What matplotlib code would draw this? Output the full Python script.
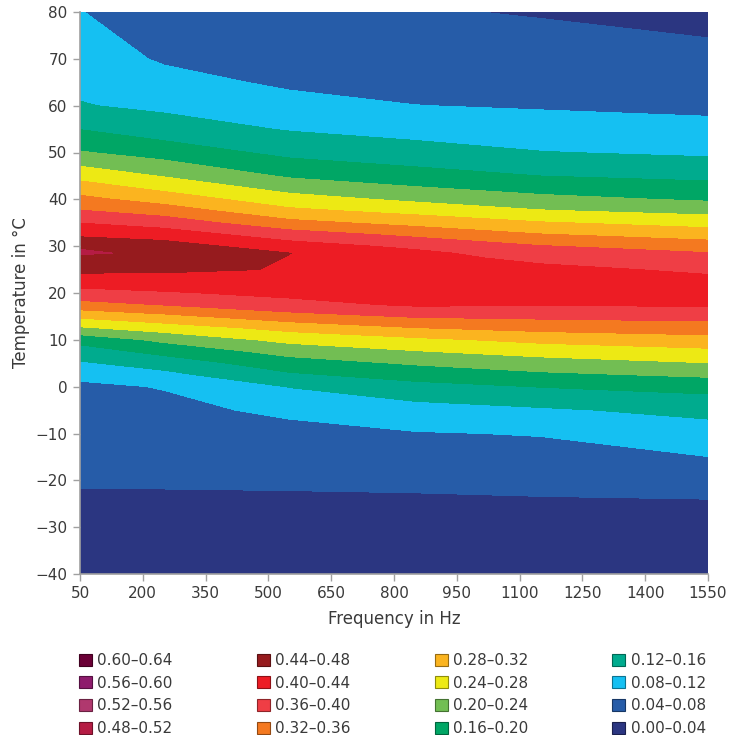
import numpy as np
import matplotlib.pyplot as plt
from matplotlib.colors import to_rgb
from matplotlib.patches import Patch

plt.rcParams['font.family'] = ['DejaVu Sans']

# measurement grid
freqs = [50, 250, 550, 850, 1150, 1550]
temps = [-40, -30, -20, -10, -5, 0, 2.5, 5, 7.5, 10, 12.5, 15, 17.5, 20, 22.5,
         25, 27.5, 28.5, 30, 32.5, 35, 37.5, 40, 42.5, 45, 50, 55, 60, 65, 70, 80]

# loss factor per frequency, one value per temperature above
loss_50 = [0.018, 0.025, 0.043, 0.060, 0.069, 0.074, 0.087, 0.115, 0.141, 0.174,
           0.234, 0.288, 0.345, 0.386, 0.419, 0.449, 0.466, 0.486, 0.475, 0.431,
           0.399, 0.363, 0.331, 0.299, 0.266, 0.203, 0.159, 0.122, 0.112, 0.101, 0.081]
loss_250 = [0.018, 0.025, 0.0434, 0.0624, 0.0718, 0.0815, 0.1084, 0.1371, 0.172, 0.2084,
            0.2582, 0.3089, 0.3614, 0.3959, 0.4232, 0.4463, 0.466, 0.4708, 0.458, 0.4209,
            0.3814, 0.3426, 0.3029, 0.2688, 0.2374, 0.1825, 0.138, 0.1119, 0.0936, 0.0752, 0.062]
loss_550 = [0.014, 0.019, 0.0459, 0.070, 0.0863, 0.1213, 0.1535, 0.1822, 0.2136, 0.2513,
            0.292, 0.3432, 0.3872, 0.4096, 0.4238, 0.438, 0.4387, 0.4405, 0.418, 0.3783,
            0.332, 0.2896, 0.2563, 0.225, 0.1949, 0.1493, 0.1172, 0.094, 0.073, 0.056, 0.046]
loss_850 = [0.012, 0.018, 0.048, 0.0776, 0.104, 0.1467, 0.1756, 0.204, 0.2373, 0.2707,
            0.3179, 0.3635, 0.405, 0.422, 0.428, 0.426, 0.415, 0.41, 0.3908, 0.3505,
            0.3062, 0.2677, 0.2318, 0.2024, 0.1758, 0.1354, 0.1056, 0.0805, 0.068, 0.058, 0.043]
loss_1150 = [0.014, 0.020, 0.0504, 0.082, 0.1148, 0.1612, 0.1915, 0.2225, 0.2547, 0.2904,
             0.3319, 0.3683, 0.403, 0.414, 0.418, 0.412, 0.3877, 0.3774, 0.3621, 0.3217,
             0.2831, 0.2432, 0.2113, 0.1844, 0.1598, 0.1215, 0.096, 0.0765, 0.0667, 0.0569, 0.0373]
loss_1550 = [0.010, 0.015, 0.0568, 0.1025, 0.1309, 0.1733, 0.2065, 0.2387, 0.27, 0.3052,
             0.34, 0.3729, 0.404, 0.415, 0.412, 0.3915, 0.3702, 0.3617, 0.34, 0.3015,
             0.2643, 0.2281, 0.1947, 0.1724, 0.1506, 0.1132, 0.0888, 0.0727, 0.0614, 0.05, 0.0277]

levels = [0.00, 0.04, 0.08, 0.12, 0.16, 0.20, 0.24, 0.28, 0.32,
          0.36, 0.40, 0.44, 0.48, 0.52, 0.56, 0.60, 0.64]
band_colors = ['#2b3681', '#265ca8', '#15c0f2', '#00ab8e', '#00a665', '#72be53',
               '#ede914', '#fbb41f', '#f47920', '#ef3e45', '#ed1c24', '#961b1e',
               '#b51c44', '#b0386e', '#8e1b6c', '#6b0036']

Z = np.column_stack([loss_50, loss_250, loss_550, loss_850, loss_1150, loss_1550])

text_color = '#3a3a3a'
axis_color = '#a0a0a0'

fig = plt.figure(figsize=(7.29, 7.35), dpi=100)
ax = fig.add_axes([80 / 729, 1 - 574 / 735, 628 / 729, 562 / 735])
ax.contourf(freqs, temps, Z, levels=levels, colors=band_colors)

ax.set_xlim(50, 1550)
ax.set_ylim(-40, 80)
ax.set_xticks(range(50, 1551, 150))
ax.set_yticks(range(-40, 81, 10))
ax.tick_params(direction='out', length=5, width=1, color=axis_color,
               labelcolor=text_color, labelsize=11, pad=4)
for side in ['top', 'right']:
    ax.spines[side].set_visible(False)
for side in ['left', 'bottom']:
    ax.spines[side].set_color(axis_color)
    ax.spines[side].set_linewidth(1.2)

ax.set_xlabel('Frequency in Hz', fontsize=12, color=text_color, labelpad=6)
ax.set_ylabel('Temperature in °C', fontsize=12, color=text_color, labelpad=4)

# legend, highest band first, filled column by column
handles = []
labels = []
for i in range(len(band_colors) - 1, -1, -1):
    edge = tuple(c * 0.6 for c in to_rgb(band_colors[i]))
    handles.append(Patch(facecolor=band_colors[i], edgecolor=edge, linewidth=0.8))
    labels.append(f'{levels[i]:.2f}\u2013{levels[i + 1]:.2f}')

fig.legend(handles, labels, loc='upper left', bbox_to_anchor=(79 / 729, 1 - 653 / 735),
           ncol=4, frameon=False, fontsize=11, labelcolor=text_color,
           handlelength=0.85, handleheight=0.85, handletextpad=0.35,
           columnspacing=5.5, labelspacing=0.5, borderpad=0, borderaxespad=0)

fig.savefig('out.png', dpi=100)
